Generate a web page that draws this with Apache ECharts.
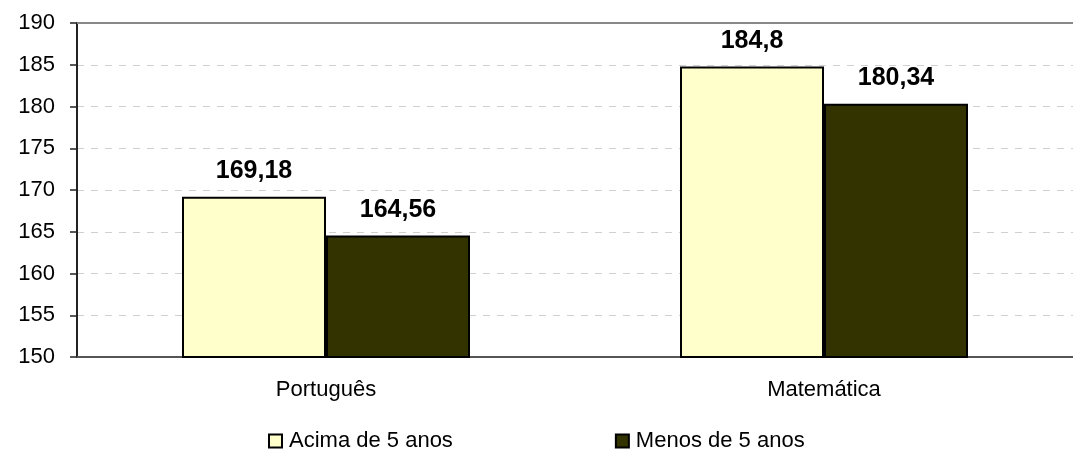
<!DOCTYPE html>
<html>
<head>
<meta charset="utf-8">
<script src="https://cdn.jsdelivr.net/npm/echarts@6/dist/echarts.min.js"></script>
<style>
    html, body { margin: 0; padding: 0; background: #fff; }
    #chart { width: 1073px; height: 457px; }
</style>
</head>
<body>
<div id="chart"></div>
<script>
const categories = ['Português', 'Matemática'];
const acima = [169.18, 184.8];
const menos = [164.56, 180.34];
const seriesNames = ['Acima de 5 anos', 'Menos de 5 anos'];

const fmt = function (p) {
    return String(p.value).replace('.', ',');
};

const chart = echarts.init(document.getElementById('chart'));

const barLabel = {
    show: true,
    position: 'top',
    distance: 13,
    fontSize: 25,
    fontWeight: 'bold',
    color: '#000',
    formatter: fmt
};

chart.setOption({
    animation: false,
    textStyle: { fontFamily: 'Liberation Sans, Arial, sans-serif' },
    grid: {
        left: 77,
        right: -6,
        top: 23,
        bottom: 100
    },
    legend: {
        bottom: 0,
        left: 263,
        itemGap: 162,
        itemWidth: 13,
        itemHeight: 13,
        icon: 'rect',
        textStyle: { fontSize: 22, color: '#000', padding: [0, 0, 0, 2] },
        data: seriesNames
    },
    xAxis: {
        type: 'category',
        data: categories,
        axisLine: { lineStyle: { color: '#555', width: 2 } },
        axisTick: { length: 7, lineStyle: { color: '#555', width: 2 } },
        axisLabel: { fontSize: 22, color: '#000', margin: 22 }
    },
    yAxis: {
        type: 'value',
        min: 150,
        max: 190,
        interval: 5,
        axisLine: { show: true, lineStyle: { color: '#222', width: 2 } },
        axisTick: { show: true, length: 7, lineStyle: { color: '#222', width: 1.5 } },
        axisLabel: { fontSize: 22, color: '#000', margin: 22 },
        splitLine: {
            show: true,
            lineStyle: { color: '#d0d0d0', type: [7, 7], width: 1 }
        }
    },
    series: [{
        name: seriesNames[0],
        type: 'bar',
        data: acima,
        barWidth: 144,
        barGap: '0%',
        itemStyle: { color: '#ffffcc', borderColor: '#000', borderWidth: 2 },
        label: barLabel
    }, {
        name: seriesNames[1],
        type: 'bar',
        data: menos,
        barWidth: 144,
        barGap: '0%',
        itemStyle: { color: '#333300', borderColor: '#000', borderWidth: 2 },
        label: barLabel
    }],
    graphic: [{
        type: 'line',
        shape: { x1: 77, y1: 23, x2: 1073, y2: 23 },
        style: { stroke: '#888', lineWidth: 2 },
        z: 5
    }]
});
</script>
</body>
</html>
